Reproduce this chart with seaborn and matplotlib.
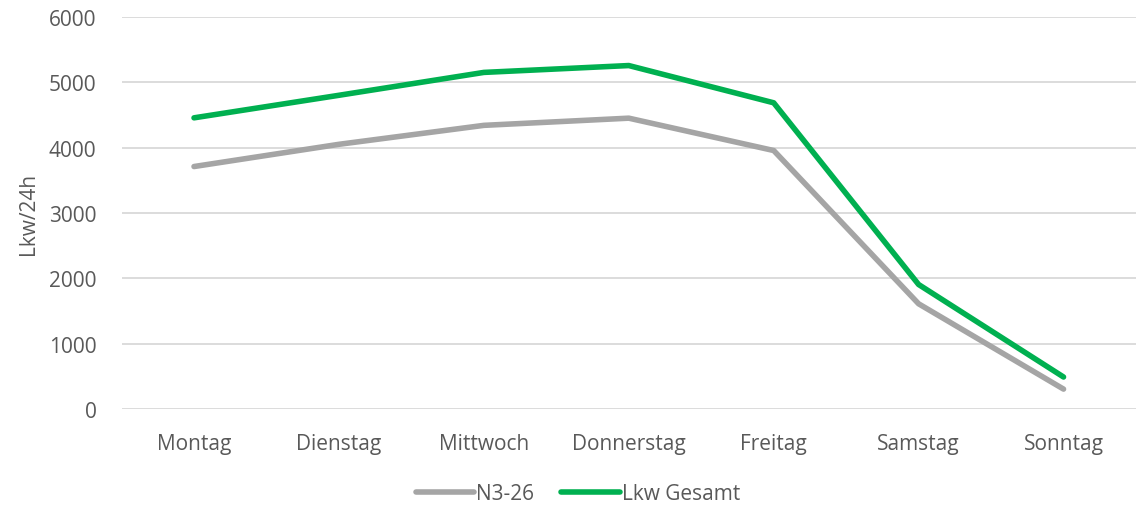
import matplotlib
matplotlib.use("Agg")
import matplotlib.pyplot as plt
import seaborn as sns
import pandas as pd

# Wochentage und Werte (Lkw pro 24h)
days = ["Montag", "Dienstag", "Mittwoch", "Donnerstag", "Freitag", "Samstag", "Sonntag"]
n3_26 = [3710, 4050, 4340, 4450, 3955, 1610, 305]
lkw_gesamt = [4455, 4800, 5150, 5255, 4685, 1905, 490]
series_names = ["N3-26", "Lkw Gesamt"]
colors = {"N3-26": "#A5A5A5", "Lkw Gesamt": "#00B050"}

df = pd.DataFrame({
    "Tag": days * 2,
    "x": list(range(len(days))) * 2,
    "Wert": n3_26 + lkw_gesamt,
    "Serie": [series_names[0]] * len(days) + [series_names[1]] * len(days),
})

sns.set_style("white")
plt.rcParams["font.family"] = ["Open Sans", "DejaVu Sans"]
text_col = "#595959"
fs = 15

fig = plt.figure(figsize=(11.36, 5.10), dpi=100)
ax = fig.add_axes([0.107, 0.196, 0.893, 0.769])

sns.lineplot(data=df, x="x", y="Wert", hue="Serie", palette=colors,
             linewidth=4, ax=ax, legend=True)
for line in ax.lines:
    line.set_solid_capstyle("round")

ax.set_xlim(-0.5, len(days) - 0.5)
ax.set_ylim(0, 6000)
ax.set_yticks(range(0, 6001, 1000))
ax.set_xticks(range(len(days)))
ax.set_xticklabels(days)
ax.yaxis.grid(True, color="#D9D9D9", linewidth=1.3)
ax.set_axisbelow(True)
for s in ax.spines.values():
    s.set_visible(False)
ax.tick_params(axis="both", length=0, labelsize=fs, colors=text_col)
ax.tick_params(axis="x", pad=17)
ax.tick_params(axis="y", pad=18)
ax.set_xlabel("")
ax.set_ylabel("Lkw/24h", fontsize=fs, color=text_col, labelpad=7)

leg = ax.legend(loc="lower center", bbox_to_anchor=(0.45, -0.29), ncol=2,
                frameon=False, fontsize=fs, handlelength=2.8, handletextpad=0.1,
                columnspacing=1.3)
for t in leg.get_texts():
    t.set_color(text_col)
for h in leg.get_lines():
    h.set_linewidth(4)
    h.set_solid_capstyle("round")

fig.savefig("out.png", dpi=100)
